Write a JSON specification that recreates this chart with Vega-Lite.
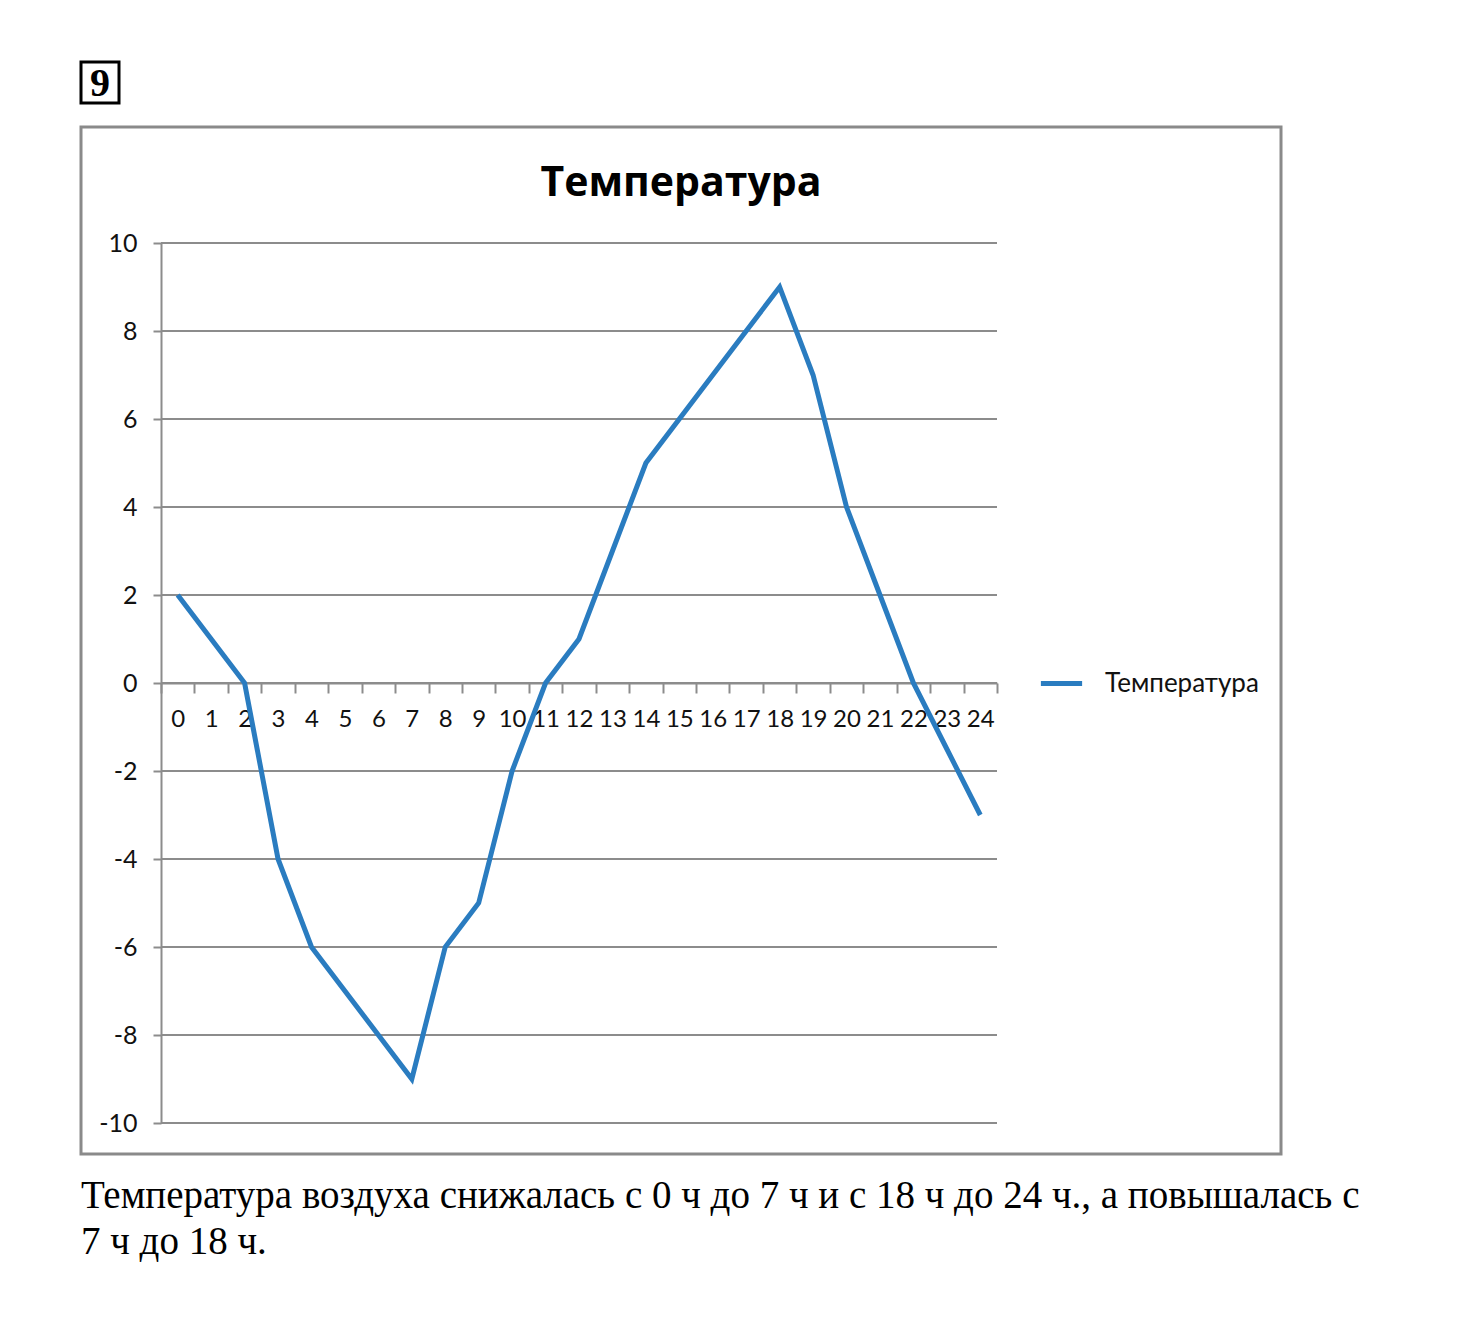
{
  "$schema": "https://vega.github.io/schema/vega-lite/v6.json",
  "background": "white",
  "padding": {"left": 79, "top": 60, "right": 0, "bottom": 0},
  "spacing": 20,
  "config": {"font": "Lato"},
  "vconcat": [
    {
      "width": 38,
      "height": 41,
      "view": {"stroke": "black", "strokeWidth": 3},
      "data": {"values": [{"label": "9"}]},
      "mark": {"type": "text", "font": "Liberation Serif", "fontWeight": "bold", "fontSize": 40, "color": "black", "dy": 1},
      "encoding": {"text": {"field": "label"}}
    },
    {
      "width": 1200,
      "height": 1027,
      "view": {"stroke": "#8a8a8a", "strokeWidth": 3},
      "title": {"text": "Температура", "font": "Open Sans", "fontSize": 41, "fontWeight": "bold", "color": "black", "anchor": "middle", "offset": -78},
      "resolve": {"scale": {"x": "independent"}},
      "layer": [
        {
          "data": {"values": [{"temp": -10}, {"temp": -8}, {"temp": -6}, {"temp": -4}, {"temp": -2}, {"temp": 0}, {"temp": 2}, {"temp": 4}, {"temp": 6}, {"temp": 8}, {"temp": 10}]},
          "mark": {"type": "rule", "color": "#8c8c8c", "strokeWidth": 2},
          "encoding": {
            "x": {"datum": 0, "type": "quantitative", "scale": {"domain": [0, 1], "range": [80, 916]}, "axis": null},
            "x2": {"datum": 1},
            "y": {"field": "temp", "type": "quantitative", "scale": {"domain": [-10, 10], "range": [996, 116]}, "axis": {"orient": "left", "offset": -80, "title": null, "values": [-10, -8, -6, -4, -2, 0, 2, 4, 6, 8, 10], "labelExpr": "replace(datum.label, '−', '-')", "grid": false, "tickSize": 8, "tickColor": "#8c8c8c", "tickWidth": 2, "domainColor": "#8c8c8c", "domainWidth": 2, "labelFont": "Lato", "labelFontSize": 25, "labelColor": "#111111", "labelPadding": 16}}
          }
        },
        {
          "data": {"values": [
            {"hour": 0, "temp": 2}, {"hour": 1, "temp": 1}, {"hour": 2, "temp": 0}, {"hour": 3, "temp": -4},
            {"hour": 4, "temp": -6}, {"hour": 5, "temp": -7}, {"hour": 6, "temp": -8}, {"hour": 7, "temp": -9},
            {"hour": 8, "temp": -6}, {"hour": 9, "temp": -5}, {"hour": 10, "temp": -2}, {"hour": 11, "temp": 0},
            {"hour": 12, "temp": 1}, {"hour": 13, "temp": 3}, {"hour": 14, "temp": 5}, {"hour": 15, "temp": 6},
            {"hour": 16, "temp": 7}, {"hour": 17, "temp": 8}, {"hour": 18, "temp": 9}, {"hour": 19, "temp": 7},
            {"hour": 20, "temp": 4}, {"hour": 21, "temp": 2}, {"hour": 22, "temp": 0}, {"hour": 23, "temp": -1.5},
            {"hour": 24, "temp": -3}
          ]},
          "mark": {"type": "line", "strokeWidth": 5},
          "encoding": {
            "x": {"field": "hour", "type": "ordinal", "bandPosition": 0.5,
                  "scale": {"type": "band", "paddingInner": 0, "paddingOuter": 0, "range": [80, 916]},
                  "axis": {"orient": "bottom", "offset": -471, "title": null, "labelAngle": 0, "tickBand": "extent", "tickSize": 10, "tickColor": "#8c8c8c", "tickWidth": 2, "domainColor": "#8c8c8c", "domainWidth": 2, "labelFont": "Lato", "labelFontSize": 24, "labelColor": "#111111", "labelPadding": 14, "grid": false}},
            "y": {"field": "temp", "type": "quantitative", "scale": {"domain": [-10, 10], "range": [996, 116]}, "axis": {"orient": "left", "offset": -80, "title": null, "values": [-10, -8, -6, -4, -2, 0, 2, 4, 6, 8, 10], "labelExpr": "replace(datum.label, '−', '-')", "grid": false, "tickSize": 8, "tickColor": "#8c8c8c", "tickWidth": 2, "domainColor": "#8c8c8c", "domainWidth": 2, "labelFont": "Lato", "labelFontSize": 25, "labelColor": "#111111", "labelPadding": 16}},
            "color": {"datum": "Температура", "type": "nominal", "scale": {"range": ["#2a7cc0"]},
                      "legend": {"orient": "none", "legendX": 957, "legendY": 598, "title": null, "symbolType": "stroke", "symbolStrokeWidth": 5, "symbolSize": 1700, "labelFont": "Lato", "labelFontSize": 26, "labelColor": "#111111", "labelOffset": 20, "padding": 0}}
          }
        }
      ]
    },
    {
      "width": 1280,
      "height": 1,
      "view": {"stroke": null},
      "title": {"text": ["Температура воздуха снижалась с 0 ч до 7 ч и с 18 ч до 24 ч., а повышалась с", "7 ч до 18 ч."], "font": "Liberation Serif", "fontSize": 39, "fontWeight": "normal", "color": "black", "anchor": "start", "lineHeight": 46, "offset": 0},
      "data": {"values": [{"t": ""}]},
      "mark": "text",
      "encoding": {"text": {"field": "t"}}
    }
  ]
}
